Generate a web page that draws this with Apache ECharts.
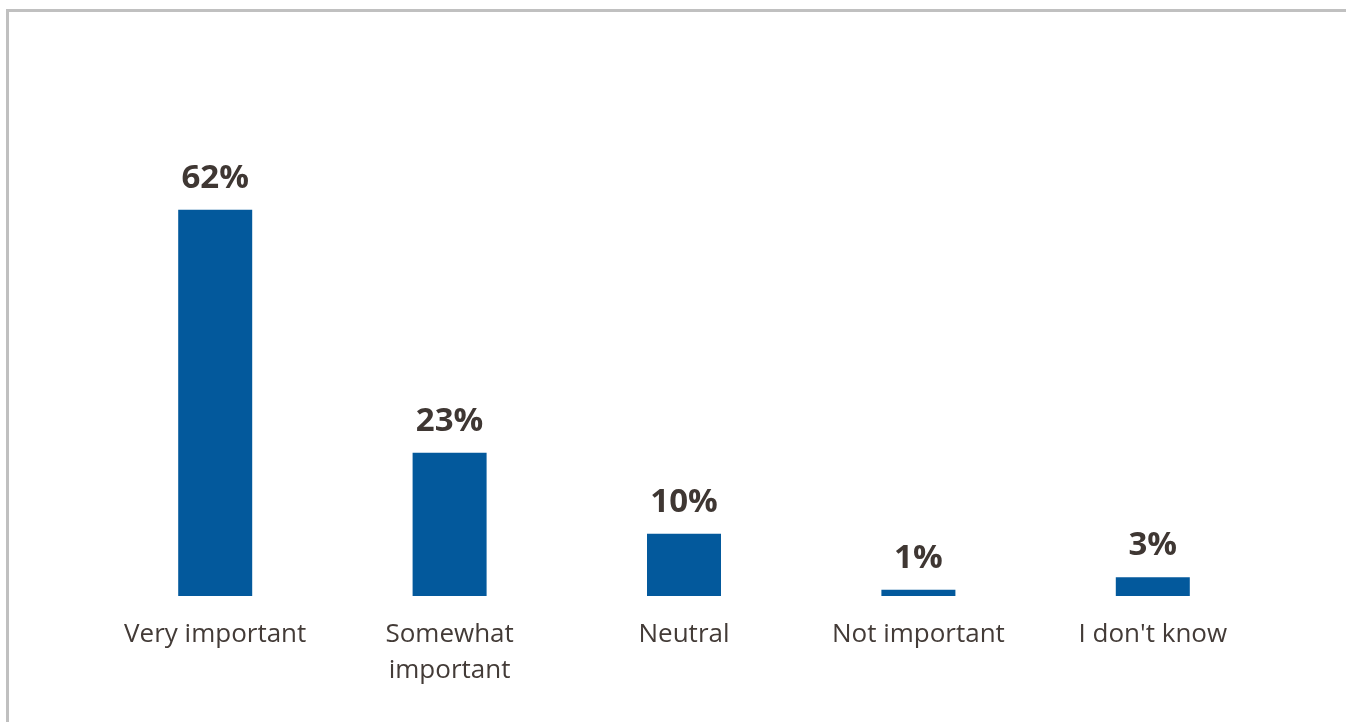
<!DOCTYPE html>
<html>
<head>
<meta charset="utf-8">
<script src="https://cdn.jsdelivr.net/npm/echarts@6/dist/echarts.min.js"></script>
<style>
  html, body { margin: 0; padding: 0; background: #fff; overflow: hidden; }
  #frame { position: absolute; left: 6px; top: 9px; width: 1400px; height: 800px;
           border-left: 3px solid #c0c0c0; border-top: 3px solid #c0c0c0; }
  #chart { position: absolute; left: 0; top: 0; width: 1346px; height: 722px; }
</style>
</head>
<body>
<div id="frame"></div>
<div id="chart"></div>
<script>
// Survey responses: share of respondents per answer (percent)
const categories = ['Very important', 'Somewhat\nimportant', 'Neutral', 'Not important', "I don't know"];
const shares = [62, 23, 10, 1, 3];

const chart = echarts.init(document.getElementById('chart'));
chart.setOption({
  animation: false,
  grid: { left: 98, right: 76, top: 160, bottom: 126 },
  xAxis: {
    type: 'category',
    data: categories,
    axisLine: { show: false },
    axisTick: { show: false },
    axisLabel: {
      color: '#433b37',
      fontFamily: 'Open Sans',
      fontSize: 26,
      lineHeight: 36,
      margin: 21,
      interval: 0
    }
  },
  yAxis: {
    type: 'value',
    min: 0,
    max: 70,
    show: false,
    splitLine: { show: false }
  },
  series: [{
    type: 'bar',
    data: shares,
    barWidth: 74,
    itemStyle: { color: '#03599c' },
    label: {
      show: true,
      position: 'top',
      distance: 15,
      formatter: '{c}%',
      color: '#3f3733',
      fontFamily: 'Open Sans',
      fontWeight: 'bold',
      fontSize: 33
    }
  }]
});
</script>
</body>
</html>
